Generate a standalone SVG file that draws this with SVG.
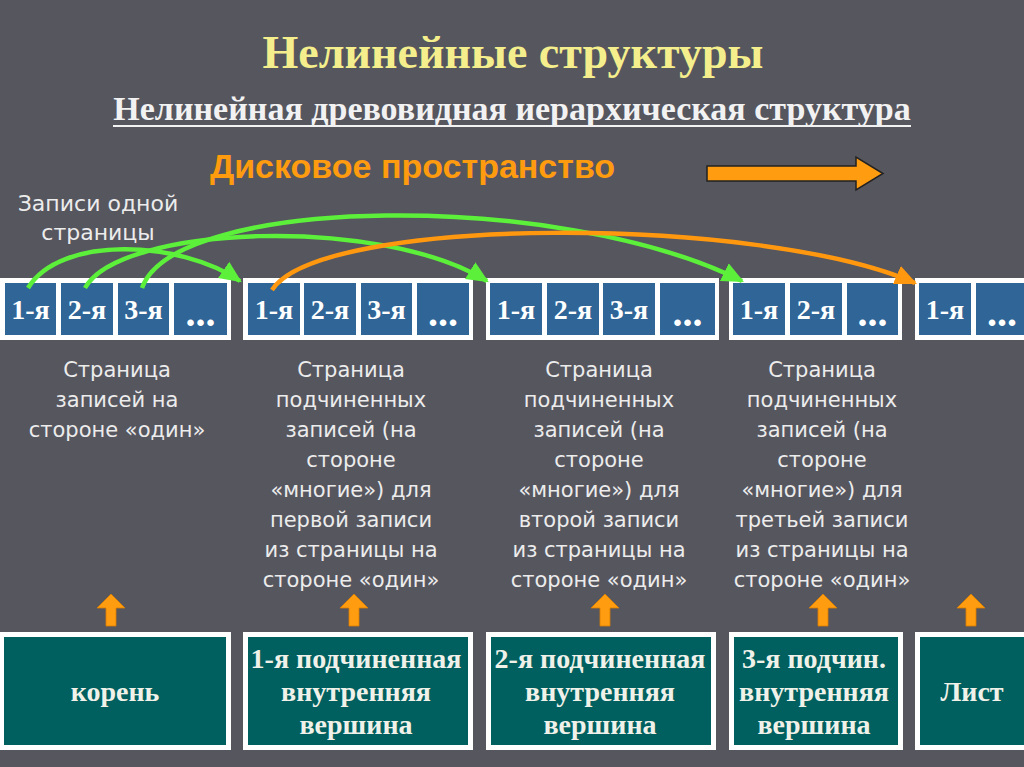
<svg xmlns="http://www.w3.org/2000/svg" width="1024" height="767" viewBox="0 0 1024 767">
<defs>
<style>
.title{font-family:"Liberation Serif",serif;font-weight:bold;font-size:46px;fill:#f4ef8c;text-anchor:middle}
.sub{font-family:"Liberation Serif",serif;font-weight:bold;font-size:34px;fill:#f2f2f2;text-anchor:middle}
.disk{font-family:"Liberation Sans",sans-serif;font-weight:bold;font-size:34px;fill:#ff9b0f}
.cap{font-family:"DejaVu Sans",sans-serif;font-size:21px;fill:#ececec;text-anchor:middle}
.frame{fill:#ffffff}
.cell{fill:#2f6597}
.ct{font-family:"Liberation Serif",serif;font-weight:bold;font-size:28px;fill:#ffffff;text-anchor:middle}
.dots{font-family:"Liberation Serif",serif;font-weight:bold;font-size:40px;fill:#ffffff;text-anchor:middle}
.box{fill:#00605f}
.bt{font-family:"Liberation Serif",serif;font-weight:bold;font-size:28px;fill:#f0f2ea;text-anchor:middle}
.up{fill:#ff9c10;stroke:#d97d00;stroke-width:0.8}
.g{fill:none;stroke:#5cf03a;stroke-width:4.5}
.o{fill:none;stroke:#ff980e;stroke-width:4.5}
</style>
<marker id="ag" viewBox="0 0 20 20" refX="18" refY="10" markerWidth="22" markerHeight="22" markerUnits="userSpaceOnUse" orient="auto">
<path d="M0,1 L20,10 L0,19 Z" fill="#5cf03a"/>
</marker>
<marker id="ao" viewBox="0 0 20 20" refX="18" refY="10" markerWidth="22" markerHeight="22" markerUnits="userSpaceOnUse" orient="auto">
<path d="M0,1 L20,10 L0,19 Z" fill="#ff980e"/>
</marker>
</defs>
<rect width="1024" height="767" fill="#56565f"/>

<text class="title" x="513" y="68">Нелинейные структуры</text>
<text class="sub" x="512" y="120">Нелинейная древовидная иерархическая структура</text>
<line x1="113" y1="126" x2="911" y2="126" stroke="#f2f2f2" stroke-width="2.2"/>
<text class="disk" x="210" y="178">Дисковое пространство</text>
<path d="M707,166 L856,166 L856,157 L883,173.5 L856,190 L856,181 L707,181 Z" fill="#ff9c10" stroke="#222" stroke-width="1.5"/>
<text class="cap" x="98" y="211" style="font-size:22px">Записи одной</text>
<text class="cap" x="98" y="240" style="font-size:22px">страницы</text>

<g id="page1">
<rect class="frame" x="0" y="278" width="231" height="62"/>
<rect class="cell" x="5" y="283" width="51" height="52"/>
<rect class="cell" x="61" y="283" width="52" height="52"/>
<rect class="cell" x="118" y="283" width="51" height="52"/>
<rect class="cell" x="174" y="283" width="53" height="52"/>
<text class="ct" x="30.5" y="319">1-я</text>
<text class="ct" x="87" y="319">2-я</text>
<text class="ct" x="143.5" y="319">3-я</text>
<text class="dots" x="200.5" y="326">...</text>
</g>
<g id="page2">
<rect class="frame" x="243" y="278" width="230" height="62"/>
<rect class="cell" x="248" y="283" width="52" height="52"/>
<rect class="cell" x="304" y="283" width="52" height="52"/>
<rect class="cell" x="361" y="283" width="51" height="52"/>
<rect class="cell" x="417" y="283" width="52" height="52"/>
<text class="ct" x="274" y="319">1-я</text>
<text class="ct" x="330" y="319">2-я</text>
<text class="ct" x="386.5" y="319">3-я</text>
<text class="dots" x="443" y="326">...</text>
</g>
<g id="page3">
<rect class="frame" x="486" y="278" width="233" height="62"/>
<rect class="cell" x="490" y="283" width="52" height="52"/>
<rect class="cell" x="547" y="283" width="52" height="52"/>
<rect class="cell" x="603" y="283" width="52" height="52"/>
<rect class="cell" x="660" y="283" width="55" height="52"/>
<text class="ct" x="516" y="319">1-я</text>
<text class="ct" x="573" y="319">2-я</text>
<text class="ct" x="629" y="319">3-я</text>
<text class="dots" x="687.5" y="326">...</text>
</g>
<g id="page4">
<rect class="frame" x="729" y="278" width="173" height="62"/>
<rect class="cell" x="733" y="283" width="52" height="52"/>
<rect class="cell" x="790" y="283" width="52" height="52"/>
<rect class="cell" x="847" y="283" width="51" height="52"/>
<text class="ct" x="759" y="319">1-я</text>
<text class="ct" x="816" y="319">2-я</text>
<text class="dots" x="872.5" y="326">...</text>
</g>
<g id="page5">
<rect class="frame" x="915" y="278" width="115" height="62"/>
<rect class="cell" x="919" y="283" width="52" height="52"/>
<rect class="cell" x="976" y="283" width="52" height="52"/>
<text class="ct" x="945" y="319">1-я</text>
<text class="dots" x="1002" y="326">...</text>
</g>

<g id="captions">
<text class="cap" x="117" y="377">Страница</text>
<text class="cap" x="117" y="407">записей на</text>
<text class="cap" x="117" y="437">стороне «один»</text>

<text class="cap" x="351" y="377">Страница</text>
<text class="cap" x="351" y="407">подчиненных</text>
<text class="cap" x="351" y="437">записей (на</text>
<text class="cap" x="351" y="467">стороне</text>
<text class="cap" x="351" y="497">«многие») для</text>
<text class="cap" x="351" y="527">первой записи</text>
<text class="cap" x="351" y="557">из страницы на</text>
<text class="cap" x="351" y="587">стороне «один»</text>

<text class="cap" x="599" y="377">Страница</text>
<text class="cap" x="599" y="407">подчиненных</text>
<text class="cap" x="599" y="437">записей (на</text>
<text class="cap" x="599" y="467">стороне</text>
<text class="cap" x="599" y="497">«многие») для</text>
<text class="cap" x="599" y="527">второй записи</text>
<text class="cap" x="599" y="557">из страницы на</text>
<text class="cap" x="599" y="587">стороне «один»</text>

<text class="cap" x="822" y="377">Страница</text>
<text class="cap" x="822" y="407">подчиненных</text>
<text class="cap" x="822" y="437">записей (на</text>
<text class="cap" x="822" y="467">стороне</text>
<text class="cap" x="822" y="497">«многие») для</text>
<text class="cap" x="822" y="527">третьей записи</text>
<text class="cap" x="822" y="557">из страницы на</text>
<text class="cap" x="822" y="587">стороне «один»</text>
</g>

<g id="connectors">
<path class="g" d="M28,288 C60,235 180,240 240,281" marker-end="url(#ag)"/>
<path class="g" d="M85,288 C120,225 380,215 487,281" marker-end="url(#ag)"/>
<path class="g" d="M142,288 C175,195 560,190 742,281" marker-end="url(#ag)"/>
<path class="o" d="M272,290 C320,215 760,215 915,283" marker-end="url(#ao)"/>
</g>

<g id="uparrows">
<path class="up" d="M106,626 L106,608 L97,608 L111,594 L125,608 L116,608 L116,626 Z"/>
<path class="up" d="M349,626 L349,608 L340,608 L354,594 L368,608 L359,608 L359,626 Z"/>
<path class="up" d="M600,626 L600,608 L591,608 L605,594 L619,608 L610,608 L610,626 Z"/>
<path class="up" d="M818,626 L818,608 L809,608 L823,594 L837,608 L828,608 L828,626 Z"/>
<path class="up" d="M966,626 L966,608 L957,608 L971,594 L985,608 L976,608 L976,626 Z"/>
</g>

<g id="root">
<rect class="frame" x="0" y="632" width="231" height="118"/>
<rect class="box" x="4" y="637" width="222" height="108"/>
<text class="bt" x="115" y="701">корень</text>
</g>
<g id="inner1">
<rect class="frame" x="243" y="632" width="230" height="118"/>
<rect class="box" x="248" y="637" width="220" height="108"/>
<text class="bt" x="356" y="668">1-я подчиненная</text>
<text class="bt" x="356" y="701">внутренняя</text>
<text class="bt" x="356" y="734">вершина</text>
</g>
<g id="inner2">
<rect class="frame" x="486" y="632" width="230" height="118"/>
<rect class="box" x="491" y="637" width="220" height="108"/>
<text class="bt" x="600" y="668">2-я подчиненная</text>
<text class="bt" x="600" y="701">внутренняя</text>
<text class="bt" x="600" y="734">вершина</text>
</g>
<g id="inner3">
<rect class="frame" x="729" y="632" width="174" height="118"/>
<rect class="box" x="734" y="637" width="164" height="108"/>
<text class="bt" x="814" y="668">3-я подчин.</text>
<text class="bt" x="814" y="701">внутренняя</text>
<text class="bt" x="814" y="734">вершина</text>
</g>
<g id="leaf">
<rect class="frame" x="915" y="632" width="115" height="118"/>
<rect class="box" x="920" y="637" width="110" height="108"/>
<text class="bt" x="972" y="701">Лист</text>
</g>
</svg>
